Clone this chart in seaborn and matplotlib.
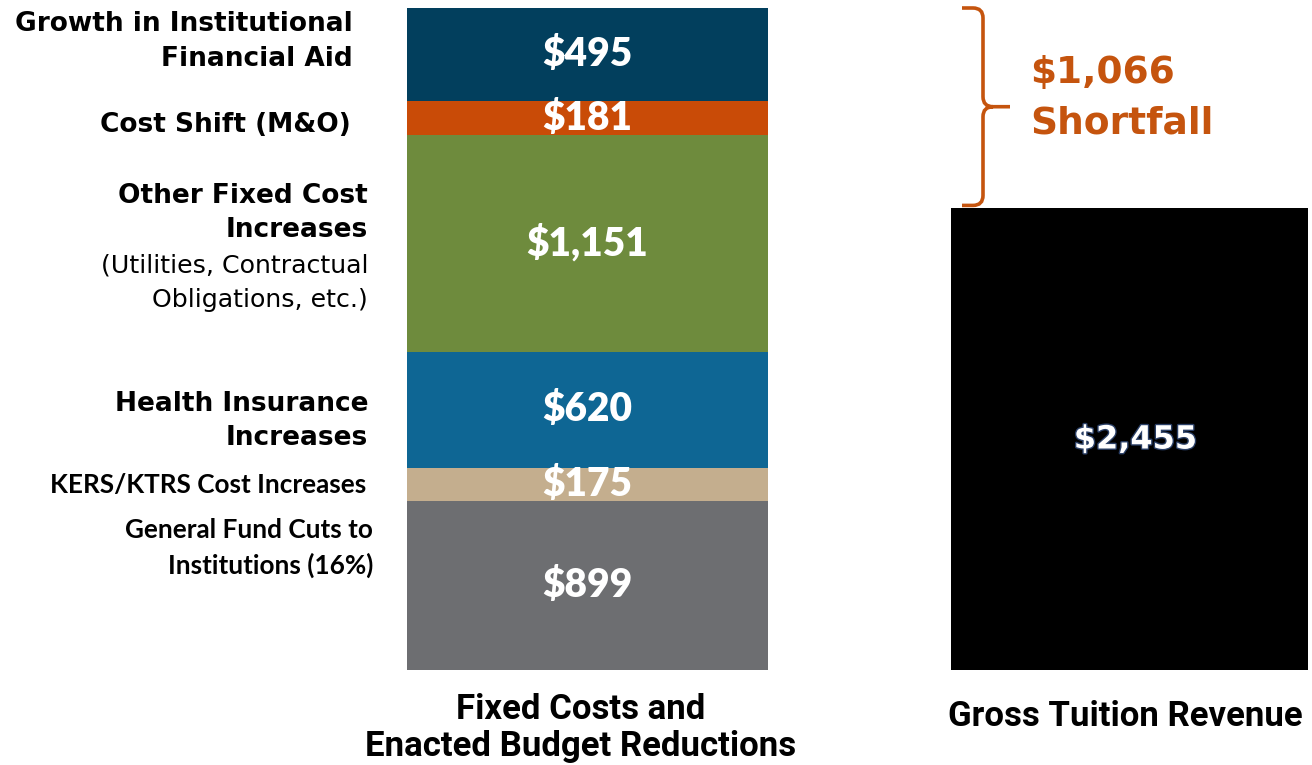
"""
Fixed costs vs. gross tuition revenue - stacked bar recreation.
"""

import matplotlib.pyplot as plt
import matplotlib.patheffects as pe
from matplotlib.path import Path
from matplotlib.patches import PathPatch
import seaborn as sns
import numpy as np


bar_names = ["Fixed Costs and\nEnacted Budget Reductions", "Gross Tuition Revenue"]

# stacked segments of the left bar, bottom to top
cost_values = [899, 175, 620, 1151, 181, 495]
cost_colors = ["#6D6E71", "#C4AE8E", "#0E6694", "#6E8B3D", "#C94B07", "#023F5D"]
cost_labels = ["$899", "$175", "$620", "$1,151", "$181", "$495"]

tuition_value = 2455
tuition_label = "$2,455"

shortfall_label = "$1,066\nShortfall"
shortfall_color = "#C5540E"

# left-hand captions: (text, pixel y from top, right edge px, style)
captions = [
    ("Growth in Institutional", 24, 353, "head"),
    ("Financial Aid", 59, 353, "head"),
    ("Cost Shift (M&O)", 125, 351, "head"),
    ("Other Fixed Cost", 196, 368, "head"),
    ("Increases", 230, 368, "head"),
    ("(Utilities, Contractual", 266, 368, "sub"),
    ("Obligations, etc.)", 300, 368, "sub"),
    ("Health Insurance", 404, 368, "head"),
    ("Increases", 438, 368, "head"),
    ("KERS/KTRS Cost Increases", 485, 366, "cal"),
    ("General Fund Cuts to", 530, 373, "cal"),
    ("Institutions (16%)", 565, 373, "cal"),
]

W, H = 1312, 765
sns.set_style("white")
fig = plt.figure(figsize=(W / 100, H / 100), dpi=100)

# axes laid out so bar centres sit at px 587.5 / 1129.5, baseline at px 670
unit_x = 542.0
ax_left_px, ax_right_px = 300, 1312
px_per_val = 662.0 / sum(cost_values)
ax = fig.add_axes([ax_left_px / W, (H - 670) / H,
                   (ax_right_px - ax_left_px) / W, 670 / H])

bottoms = np.concatenate([[0], np.cumsum(cost_values)[:-1]])
for val, bot, col in zip(cost_values, bottoms, cost_colors):
    sns.barplot(x=[bar_names[0]], y=[val], bottom=bot, order=bar_names,
                color=col, saturation=1, width=0.666, linewidth=0,
                errorbar=None, ax=ax)
sns.barplot(x=[bar_names[1]], y=[tuition_value], order=bar_names,
            color="#000000", saturation=1, width=0.659, linewidth=0,
            errorbar=None, ax=ax)

ax.set_xlim(-(587.5 - ax_left_px) / unit_x, 1 + (ax_right_px - 1129.5) / unit_x)
ax.set_ylim(0, 670 / px_per_val)
ax.set_axis_off()

# segment values
for val, bot, lab in zip(cost_values, bottoms, cost_labels):
    ax.text(0, bot + val / 2, lab, ha="center", va="center", color="white",
            fontsize=28, fontweight="heavy", family="Lato")
ax.text(1 + 6 / unit_x, (670 - 440) / px_per_val, tuition_label, ha="center",
        va="center", color="white", fontsize=23, fontweight="bold",
        family="DejaVu Sans",
        path_effects=[pe.withStroke(linewidth=2, foreground="#2a3f66")])

# shortfall brace
total_cost = sum(cost_values)
xv = (983 - 587.5) / unit_x
xh = (962 - 587.5) / unit_x
xt = (1010 - 587.5) / unit_x
r = 10 / px_per_val
rx = 10 / unit_x
y0, y1 = tuition_value + 3 / px_per_val, total_cost
ym = (y0 + y1) / 2
verts = [
    (xh, y1), (xv - rx, y1), (xv, y1), (xv, y1 - r),
    (xv, ym + r), (xv, ym), (xv + rx, ym), (xt, ym),
    (xv + rx, ym), (xv, ym), (xv, ym - r),
    (xv, y0 + r), (xv, y0), (xv - rx, y0), (xh, y0),
]
codes = [Path.MOVETO, Path.LINETO, Path.CURVE3, Path.CURVE3,
         Path.LINETO, Path.CURVE3, Path.CURVE3, Path.LINETO,
         Path.MOVETO, Path.CURVE3, Path.CURVE3,
         Path.LINETO, Path.CURVE3, Path.CURVE3, Path.LINETO]
ax.add_patch(PathPatch(Path(verts, codes), fill=False, edgecolor=shortfall_color,
                       linewidth=2.6, clip_on=False))
ax.text((1030 - 587.5) / unit_x, (670 - 98) / px_per_val, shortfall_label,
        ha="left", va="center", color=shortfall_color, fontsize=27,
        fontweight="bold", family="DejaVu Sans", linespacing=1.5)

# left captions
styles = {
    "head": dict(family="DejaVu Sans", fontweight="bold", fontsize=19),
    "sub": dict(family="DejaVu Sans", fontweight="normal", fontsize=18.2),
    "cal": dict(family="Lato", fontweight="bold", fontsize=18.8),
}
for text, py, rx_px, style in captions:
    fig.text(rx_px / W, 1 - py / H, text, ha="right", va="center",
             color="black", **styles[style])

# category names under the bars
fig.text(581 / W, 1 - 728 / H, bar_names[0], ha="center", va="center",
         color="black", family="Roboto", fontweight="bold", fontsize=25,
         linespacing=1.15)
fig.text(1125 / W, 1 - 717 / H, bar_names[1], ha="center", va="center",
         color="black", family="Roboto", fontweight="bold", fontsize=25)

fig.savefig("out.png", dpi=100, facecolor="white")
